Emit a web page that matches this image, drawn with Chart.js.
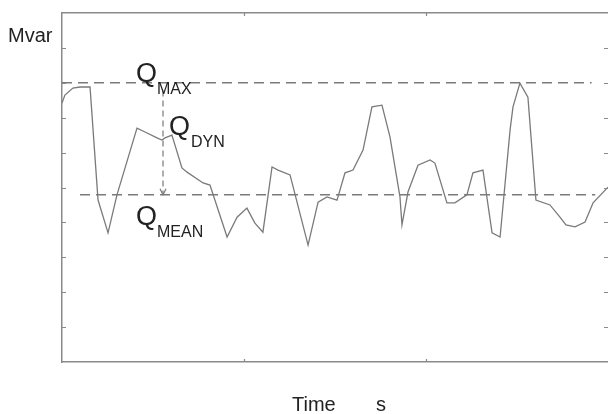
<!DOCTYPE html>
<html>
<head>
<meta charset="utf-8">
<script src="https://cdn.jsdelivr.net/npm/chart.js@4/dist/chart.umd.min.js"></script>
<style>
html,body{margin:0;padding:0;background:#fff;overflow:hidden;}
canvas{display:block;}
</style>
</head>
<body>
<canvas id="c" width="608" height="414"></canvas>
<script>
// Time (s) and reactive power (Mvar)
const time = [0,0.016,0.060,0.099,0.154,0.198,0.253,0.302,0.412,0.456,0.522,0.549,0.566,0.604,0.659,0.687,0.775,0.813,0.907,0.962,1.016,1.060,1.104,1.154,1.187,1.253,1.352,1.407,1.456,1.511,1.555,1.599,1.654,1.703,1.758,1.802,1.857,1.868,1.901,1.956,2.022,2.049,2.115,2.159,2.225,2.258,2.313,2.363,2.407,2.462,2.478,2.516,2.560,2.604,2.681,2.736,2.769,2.819,2.874,2.918,3.0];
const mvar = [7.42,7.65,7.85,7.88,7.88,4.64,3.70,4.79,6.70,6.59,6.42,6.36,6.42,6.50,5.56,5.44,5.13,5.07,3.58,4.15,4.41,3.98,3.72,5.59,5.50,5.36,3.35,4.58,4.73,4.64,5.42,5.50,6.07,7.31,7.36,6.45,4.73,3.93,4.87,5.64,5.79,5.70,4.56,4.56,4.79,5.42,5.50,3.70,3.58,6.65,7.31,7.99,7.59,4.64,4.50,4.15,3.93,3.87,4.01,4.56,5.01];
const qMax = 8.0;
const qMean = 4.79;
const qMaxSpan = [0, 2.91];
const qMeanSpan = [0.099, 2.93];
const qDynAt = 0.555;
const qDynTop = 7.78;
const yTicks = [1,2,3,4,5,6,7,8,9];
const xTicks = [1,2];

const grey = '#7a7a7a';

const decor = {
  id: 'decor',
  afterDraw(chart) {
    const ctx = chart.ctx;
    const xs = chart.scales.x, ys = chart.scales.y;
    const a = chart.chartArea;
    ctx.save();
    // inward tick marks
    ctx.strokeStyle = '#8a8a8a';
    ctx.lineWidth = 1.2;
    ctx.beginPath();
    yTicks.forEach(v => {
      const py = Math.round(ys.getPixelForValue(v)) + 0.5;
      ctx.moveTo(a.left, py); ctx.lineTo(a.left + 4, py);
      ctx.moveTo(a.right - 4, py); ctx.lineTo(a.right, py);
    });
    xTicks.forEach(v => {
      const px = Math.round(xs.getPixelForValue(v)) + 0.5;
      ctx.moveTo(px, a.bottom); ctx.lineTo(px, a.bottom - 3);
      ctx.moveTo(px, a.top); ctx.lineTo(px, a.top + 3);
    });
    ctx.stroke();
    // arrowhead
    const ax = xs.getPixelForValue(qDynAt), ay = ys.getPixelForValue(qMean);
    ctx.strokeStyle = grey;
    ctx.lineWidth = 1.2;
    ctx.beginPath();
    ctx.moveTo(ax - 3, ay - 6); ctx.lineTo(ax, ay); ctx.lineTo(ax + 3, ay - 6);
    ctx.stroke();
    // texts
    ctx.fillStyle = '#222';
    ctx.textBaseline = 'alphabetic';
    ctx.font = '20px "Liberation Sans", Arial, sans-serif';
    ctx.fillText('Mvar', 8, 42);
    ctx.fillText('Time', 292, 411);
    ctx.fillText('s', 376, 411);
    ctx.font = '27px "Liberation Sans", Arial, sans-serif';
    ctx.fillText('Q', 136, 82);
    ctx.fillText('Q', 169, 135);
    ctx.fillText('Q', 136, 225);
    ctx.font = '16px "Liberation Sans", Arial, sans-serif';
    ctx.fillText('MAX', 157, 94);
    ctx.fillText('DYN', 191, 147);
    ctx.fillText('MEAN', 157, 237);
    ctx.restore();
  }
};

new Chart(document.getElementById('c'), {
  type: 'scatter',
  data: {
    datasets: [
      {
        data: time.map((t, i) => ({x: t, y: mvar[i]})),
        showLine: true, borderColor: grey, borderWidth: 1.3,
        pointRadius: 0, tension: 0, order: 1
      },
      {
        data: qMaxSpan.map(t => ({x: t, y: qMax})),
        showLine: true, borderColor: grey, borderWidth: 1.5, borderDash: [10, 6],
        pointRadius: 0, order: 2
      },
      {
        data: qMeanSpan.map(t => ({x: t, y: qMean})),
        showLine: true, borderColor: grey, borderWidth: 1.5, borderDash: [10, 6],
        pointRadius: 0, order: 2
      },
      {
        data: [{x: qDynAt, y: qDynTop}, {x: qDynAt, y: qMean}],
        showLine: true, borderColor: grey, borderWidth: 1.2, borderDash: [6, 4],
        pointRadius: 0, order: 2
      }
    ]
  },
  options: {
    responsive: false,
    animation: false,
    events: [],
    layout: { padding: { left: 62, right: 0, top: 13, bottom: 52 } },
    plugins: { legend: { display: false }, tooltip: { enabled: false } },
    scales: {
      x: {
        type: 'linear', min: 0, max: 3, position: 'bottom',
        ticks: { display: false }, grid: { display: false },
        border: { display: true, color: '#8a8a8a', width: 1.5 },
        afterFit(s) { s.height = 0; }
      },
      x2: {
        type: 'linear', min: 0, max: 3, position: 'top',
        ticks: { display: false }, grid: { display: false },
        border: { display: true, color: '#8a8a8a', width: 1.5 },
        afterFit(s) { s.height = 0; }
      },
      y: {
        min: 0, max: 10, position: 'left',
        ticks: { display: false }, grid: { display: false },
        border: { display: true, color: '#8a8a8a', width: 1.5 },
        afterFit(s) { s.width = 0; }
      }
    }
  },
  plugins: [decor]
});
</script>
</body>
</html>
